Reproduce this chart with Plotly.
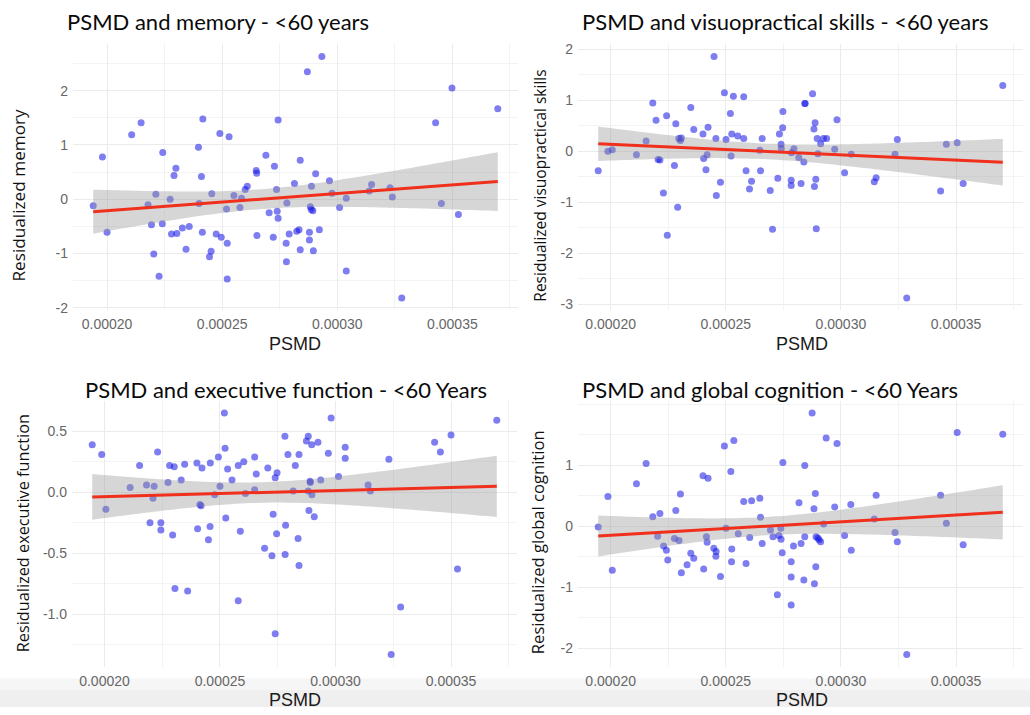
import numpy as np
import plotly.graph_objects as go

# ---------------- data ----------------
x_mem = [0.0001940, 0.0001980, 0.0002000, 0.0002107, 0.0002148, 0.0002178, 0.0002193, 0.0002203,
         0.0002212, 0.0002226, 0.0002240, 0.0002242, 0.0002274, 0.0002280, 0.0002291, 0.0002299,
         0.0002303, 0.0002327, 0.0002343, 0.0002357, 0.0002397, 0.0002400, 0.0002410, 0.0002416,
         0.0002414, 0.0002445, 0.0002452, 0.0002455, 0.0002474, 0.0002490, 0.0002496, 0.0002519,
         0.0002522, 0.0002522, 0.0002530, 0.0002551, 0.0002577, 0.0002584, 0.0002600, 0.0002609,
         0.0002648, 0.0002650, 0.0002651, 0.0002690, 0.0002704, 0.0002722, 0.0002727, 0.0002736,
         0.0002739, 0.0002743, 0.0002743, 0.0002778, 0.0002779, 0.0002781, 0.0002791, 0.0002814,
         0.0002824, 0.0002834, 0.0002839, 0.0002839, 0.0002870, 0.0002879, 0.0002879, 0.0002883,
         0.0002887, 0.0002894, 0.0002888, 0.0002896, 0.0002906, 0.0002922, 0.0002933, 0.0002966,
         0.0002977, 0.0003010, 0.0003039, 0.0003039, 0.0003139, 0.0003149, 0.0003229, 0.0003239,
         0.0003280, 0.0003427, 0.0003452, 0.0003498, 0.0003526, 0.0003697]
y_mem = [-0.12, 0.78, -0.61, 1.19, 1.41, -0.10, -0.47, -1.01,
         0.09, -1.42, -0.45, 0.86, 0.00, -0.64, 0.44, 0.57,
         -0.63, -0.53, -0.92, -0.50, 0.96, -0.08, 0.42, 1.48,
         -0.61, -1.06, -0.96, 0.10, -0.64, 1.21, -0.70, -0.18,
         -0.81, -1.47, 1.15, 0.07, -0.15, 0.02, 0.18, 0.24,
         0.53, 0.48, -0.67, 0.81, -0.25, -0.70, 0.61, 0.18,
         -0.22, 1.46, -0.35, -0.81, -1.15, -0.07, -0.64, 0.29,
         -0.59, -0.56, 0.72, -0.93, 2.35, -0.61, -0.75, -0.14,
         -0.19, -0.21, 0.24, -0.95, 0.47, -0.56, 2.63, 0.34,
         0.11, -0.15, 0.02, -1.32, 0.15, 0.27, 0.21, 0.04,
         -1.82, 1.41, -0.08, 2.05, -0.28, 1.67]

x_vis = [0.0001946, 0.0001988, 0.0002007, 0.0002112, 0.0002154, 0.0002183, 0.0002197, 0.0002206,
         0.0002214, 0.0002229, 0.0002243, 0.0002246, 0.0002277, 0.0002283, 0.0002291, 0.0002296,
         0.0002303, 0.0002307, 0.0002348, 0.0002361, 0.0002401, 0.0002404, 0.0002414, 0.0002419,
         0.0002423, 0.0002449, 0.0002457, 0.0002459, 0.0002477, 0.0002494, 0.0002501, 0.0002520,
         0.0002523, 0.0002526, 0.0002533, 0.0002552, 0.0002578, 0.0002578, 0.0002588, 0.0002603,
         0.0002612, 0.0002648, 0.0002651, 0.0002658, 0.0002693, 0.0002703, 0.0002726, 0.0002733,
         0.0002740, 0.0002741, 0.0002747, 0.0002748, 0.0002784, 0.0002784, 0.0002785, 0.0002796,
         0.0002817, 0.0002827, 0.0002839, 0.0002843, 0.0002845, 0.0002877, 0.0002883, 0.0002888,
         0.0002885, 0.0002891, 0.0002893, 0.0002897, 0.0002900, 0.0002912, 0.0002924, 0.0002938,
         0.0002973, 0.0002983, 0.0003016, 0.0003045, 0.0003145, 0.0003153, 0.0003235, 0.0003245,
         0.0003286, 0.0003433, 0.0003458, 0.0003505, 0.0003531, 0.0003703]
y_vis = [-0.38, 0.00, 0.03, -0.07, 0.20, 0.95, 0.61, -0.16,
         -0.17, -0.82, 0.70, -1.65, -0.28, 0.54, -1.10, 0.25,
         0.21, 0.26, 0.86, 0.43, 0.34, -0.14, -0.36, -0.07,
         0.47, 1.86, 0.25, -0.87, -0.61, 1.15, 0.23, 0.74,
         -0.09, 0.34, 1.08, 0.30, 1.07, 0.25, -0.38, -0.74,
         -0.59, 0.02, -0.38, 0.25, -0.77, -1.53, -0.53, 0.34,
         0.14, 0.06, 0.46, 0.78, -0.57, -0.67, -0.03, 0.05,
         -0.12, -0.63, -0.21, 0.94, 0.94, 1.13, 0.44, 0.56,
         -0.69, -0.55, -1.52, 0.25, -0.05, 0.15, 0.25, 0.25,
         0.04, 0.62, -0.42, -0.06, -0.60, -0.52, -0.06, 0.23,
         -2.88, -0.78, 0.14, 0.17, -0.63, 1.29]

x_exe = [0.0001947, 0.0001988, 0.0002006, 0.0002111, 0.0002152, 0.0002182, 0.0002197, 0.0002210,
         0.0002215, 0.0002230, 0.0002244, 0.0002244, 0.0002275, 0.0002282, 0.0002295, 0.0002305,
         0.0002302, 0.0002332, 0.0002347, 0.0002360, 0.0002403, 0.0002400, 0.0002413, 0.0002418,
         0.0002422, 0.0002457, 0.0002450, 0.0002458, 0.0002477, 0.0002493, 0.0002500, 0.0002519,
         0.0002522, 0.0002525, 0.0002533, 0.0002552, 0.0002579, 0.0002588, 0.0002579, 0.0002603,
         0.0002610, 0.0002650, 0.0002657, 0.0002650, 0.0002693, 0.0002707, 0.0002725, 0.0002730,
         0.0002739, 0.0002747, 0.0002739, 0.0002745, 0.0002781, 0.0002784, 0.0002782, 0.0002794,
         0.0002817, 0.0002826, 0.0002838, 0.0002842, 0.0002842, 0.0002874, 0.0002882, 0.0002882,
         0.0002885, 0.0002890, 0.0002891, 0.0002897, 0.0002898, 0.0002908, 0.0002924, 0.0002936,
         0.0002969, 0.0002981, 0.0003013, 0.0003042, 0.0003042, 0.0003141, 0.0003151, 0.0003231,
         0.0003241, 0.0003282, 0.0003429, 0.0003454, 0.0003500, 0.0003528, 0.0003698]
y_exe = [0.39, 0.31, -0.14, 0.04, 0.22, 0.06, -0.25, -0.05,
         0.05, 0.33, -0.25, -0.31, 0.08, 0.22, -0.35, -0.79,
         0.21, 0.10, 0.23, -0.81, -0.30, 0.24, -0.10, -0.11,
         0.20, -0.28, -0.39, 0.24, -0.02, 0.29, 0.05, 0.65,
         0.36, -0.21, 0.19, 0.10, 0.22, -0.32, -0.89, 0.25,
         -0.01, 0.29, 0.15, 0.02, -0.46, 0.20, -0.52, -0.18,
         0.12, 0.16, -1.16, -0.34, 0.46, -0.27, -0.51, 0.31,
         0.01, 0.22, -0.38, 0.31, -0.60, 0.42, 0.46, 0.01,
         -0.15, 0.09, 0.08, 0.39, -0.02, -0.20, 0.41, 0.10,
         0.32, 0.61, 0.13, 0.37, 0.28, 0.06, 0.01, 0.27,
         -1.33, -0.94, 0.41, 0.33, 0.47, -0.63, 0.59]

x_glob = [0.0001946, 0.0001988, 0.0002007, 0.0002112, 0.0002154, 0.0002183, 0.0002204, 0.0002214,
          0.0002230, 0.0002242, 0.0002248, 0.0002283, 0.0002277, 0.0002297, 0.0002303, 0.0002307,
          0.0002348, 0.0002361, 0.0002332, 0.0002401, 0.0002423, 0.0002416, 0.0002419, 0.0002404,
          0.0002448, 0.0002458, 0.0002457, 0.0002477, 0.0002494, 0.0002501, 0.0002522, 0.0002526,
          0.0002525, 0.0002535, 0.0002554, 0.0002578, 0.0002588, 0.0002604, 0.0002612, 0.0002648,
          0.0002651, 0.0002658, 0.0002694, 0.0002705, 0.0002724, 0.0002731, 0.0002740, 0.0002739,
          0.0002745, 0.0002748, 0.0002784, 0.0002784, 0.0002784, 0.0002794, 0.0002818, 0.0002827,
          0.0002839, 0.0002843, 0.0002843, 0.0002875, 0.0002883, 0.0002885, 0.0002889, 0.0002891,
          0.0002892, 0.0002900, 0.0002905, 0.0002912, 0.0002925, 0.0002936, 0.0002973, 0.0002983,
          0.0003016, 0.0003043, 0.0003045, 0.0003145, 0.0003153, 0.0003235, 0.0003245, 0.0003286,
          0.0003433, 0.0003458, 0.0003505, 0.0003531, 0.0003703]
y_glob = [-0.01, 0.49, -0.72, 0.70, 1.03, 0.16, -0.16, 0.21,
          -0.32, -0.39, -0.55, 0.26, -0.20, -0.23, 0.53, -0.76,
          -0.44, -0.52, -0.63, 0.83, 0.79, -0.17, -0.26, -0.70,
          -0.36, -0.41, -0.49, -0.82, 1.32, -0.03, 0.90, -0.37,
          -0.58, 1.41, -0.12, 0.41, -0.61, -0.18, 0.42, 0.46,
          0.15, -0.28, -0.06, -0.17, -1.12, -0.15, -0.21, -0.03,
          -0.43, 1.05, -0.58, -0.83, -1.29, -0.32, 0.39, -0.28,
          -0.88, 1.00, -0.17, 1.86, 0.29, -0.94, 0.54, -0.66,
          -0.17, -0.19, -0.22, -0.25, 0.04, 1.45, 0.32, 1.36,
          -0.15, 0.36, -0.39, 0.12, 0.51, -0.10, -0.25, -2.10,
          0.51, 0.05, 1.54, -0.30, 1.51]

titles = ["PSMD and memory - <60 years",
          "PSMD and visuopractical skills - <60 years",
          "PSMD and executive function - <60 Years",
          "PSMD and global cognition - <60 Years"]
y_titles = ["Residualized memory",
            "Residualized visuopractical skills",
            "Residualized executive function",
            "Residualized global cognition"]
x_title = "PSMD"

x_tick_vals = [0.00020, 0.00025, 0.00030, 0.00035]
x_tick_text = ["0.00020", "0.00025", "0.00030", "0.00035"]
y_tick_vals_mem = [-2, -1, 0, 1, 2]
y_tick_text_mem = ["-2", "-1", "0", "1", "2"]
y_tick_vals_vis = [-3, -2, -1, 0, 1, 2]
y_tick_text_vis = ["-3", "-2", "-1", "0", "1", "2"]
y_tick_vals_exe = [-1.0, -0.5, 0.0, 0.5]
y_tick_text_exe = ["-1.0", "-0.5", "0.0", "0.5"]
y_tick_vals_glob = [-2, -1, 0, 1]
y_tick_text_glob = ["-2", "-1", "0", "1"]

T_CRIT = 1.988  # 95% t quantile for ~85 df

# ---------------- layout geometry (pixels) ----------------
W, H = 1030, 715


def fx(p):
    return p / W


def fy(p):
    return 1 - p / H


panels = [
    dict(x=x_mem, y=y_mem, xd=(73, 518), yd=(42, 311), tv=y_tick_vals_mem, tt=y_tick_text_mem, minor=0.5,
         title_pos=(65, 19), ytitle_pos=(19, 195), ytitle_size=17.2, xtitle_pos=(295, 345)),
    dict(x=x_vis, y=y_vis, xd=(578, 1023), yd=(42, 311), tv=y_tick_vals_vis, tt=y_tick_text_vis, minor=0.5,
         title_pos=(580, 19), ytitle_pos=(540, 185), ytitle_size=15.5, xtitle_pos=(802, 345)),
    dict(x=x_exe, y=y_exe, xd=(72, 517), yd=(403, 672), tv=y_tick_vals_exe, tt=y_tick_text_exe, minor=0.25,
         title_pos=(83, 391), ytitle_pos=(23, 537), ytitle_size=16.3, xtitle_pos=(295, 706)),
    dict(x=x_glob, y=y_glob, xd=(578, 1023), yd=(403, 672), tv=y_tick_vals_glob, tt=y_tick_text_glob, minor=0.5,
         title_pos=(580, 391), ytitle_pos=(537, 546), ytitle_size=16.6, xtitle_pos=(802, 706)),
]


def fit_band(x, y, npts=80):
    x = np.asarray(x, float)
    y = np.asarray(y, float)
    n = len(x)
    b1, b0 = np.polyfit(x, y, 1)
    xs = np.linspace(x.min(), x.max(), npts)
    yhat = b0 + b1 * xs
    resid = y - (b0 + b1 * x)
    s = np.sqrt(np.sum(resid ** 2) / (n - 2))
    sxx = np.sum((x - x.mean()) ** 2)
    se = s * np.sqrt(1.0 / n + (xs - x.mean()) ** 2 / sxx)
    return xs, yhat, yhat - T_CRIT * se, yhat + T_CRIT * se


def expanded(lo, hi, mult=0.05):
    d = (hi - lo) * mult
    return [lo - d, hi + d]


fig = go.Figure()
annotations = []
GRID = "#ebebeb"
MINOR = "#f3f3f3"
TICKFONT = dict(family="Liberation Sans, Arial, sans-serif", size=14, color="#676767")

for i, p in enumerate(panels, start=1):
    suffix = "" if i == 1 else str(i)
    xa, ya = "x" + suffix, "y" + suffix
    xs, yhat, lo, hi = fit_band(p["x"], p["y"])

    fig.add_trace(go.Scatter(x=p["x"], y=p["y"], mode="markers", xaxis=xa, yaxis=ya,
                             marker=dict(size=7, color="rgba(20,20,230,0.55)", line=dict(width=0)),
                             showlegend=False, hoverinfo="x+y"))
    fig.add_trace(go.Scatter(x=list(xs) + list(xs[::-1]), y=list(hi) + list(lo[::-1]),
                             fill="toself", fillcolor="rgba(153,153,153,0.4)", mode="none",
                             xaxis=xa, yaxis=ya, showlegend=False, hoverinfo="skip"))
    fig.add_trace(go.Scatter(x=xs, y=yhat, mode="lines", line=dict(color="#f0301c", width=3),
                             xaxis=xa, yaxis=ya, showlegend=False, hoverinfo="skip"))

    ylo = min(min(p["y"]), float(lo.min()))
    yhi = max(max(p["y"]), float(hi.max()))
    fig.update_layout(**{
        "xaxis" + suffix: dict(domain=[fx(p["xd"][0]), fx(p["xd"][1])], anchor=ya,
                               range=expanded(min(p["x"]), max(p["x"])),
                               tickmode="array", tickvals=x_tick_vals, ticktext=x_tick_text,
                               showgrid=True, gridcolor=GRID, gridwidth=1.1, zeroline=False,
                               showline=False, ticks="", tickfont=TICKFONT, ticklabelstandoff=4,
                               minor=dict(tick0=0.0002, dtick=0.000025, showgrid=True,
                                          gridcolor=MINOR, gridwidth=0.6)),
        "yaxis" + suffix: dict(domain=[fy(p["yd"][1]), fy(p["yd"][0])], anchor=xa,
                               range=expanded(ylo, yhi),
                               tickmode="array", tickvals=p["tv"], ticktext=p["tt"],
                               showgrid=True, gridcolor=GRID, gridwidth=1.1, zeroline=False,
                               showline=False, ticks="", tickfont=TICKFONT, ticklabelstandoff=4,
                               minor=dict(tick0=0, dtick=p["minor"], showgrid=True,
                                          gridcolor=MINOR, gridwidth=0.6)),
    })

    tx, ty = p["title_pos"]
    annotations.append(dict(text=titles[i - 1], x=fx(tx), y=fy(ty), xref="paper", yref="paper",
                            xanchor="left", yanchor="middle", showarrow=False,
                            font=dict(family="Lato, Carlito, sans-serif", size=22, color="#0a0a0a")))
    yx, yy = p["ytitle_pos"]
    annotations.append(dict(text=y_titles[i - 1], x=fx(yx), y=fy(yy), xref="paper", yref="paper",
                            xanchor="center", yanchor="middle", textangle=-90, showarrow=False,
                            font=dict(family="Open Sans, sans-serif", size=p["ytitle_size"],
                                      color="#111111")))
    xx, xy = p["xtitle_pos"]
    annotations.append(dict(text=x_title, x=fx(xx), y=fy(xy), xref="paper", yref="paper",
                            xanchor="center", yanchor="middle", showarrow=False,
                            font=dict(family="Liberation Sans, Arial, sans-serif", size=18, color="#1a1a1a")))

fig.update_layout(
    width=W, height=H, margin=dict(l=0, r=0, t=0, b=0),
    paper_bgcolor="white", plot_bgcolor="white",
    annotations=annotations,
    shapes=[
        dict(type="rect", xref="paper", yref="paper", x0=0, x1=1, y0=fy(713), y1=fy(684),
             fillcolor="#f6f6f6", line=dict(width=0), layer="below"),
        dict(type="rect", xref="paper", yref="paper", x0=0, x1=1, y0=fy(713), y1=fy(696),
             fillcolor="#efefef", line=dict(width=0), layer="below"),
    ],
)

fig.write_html("out.html", config={"displayModeBar": False},
               post_script="document.body.style.margin='0';document.body.style.overflow='hidden';")
